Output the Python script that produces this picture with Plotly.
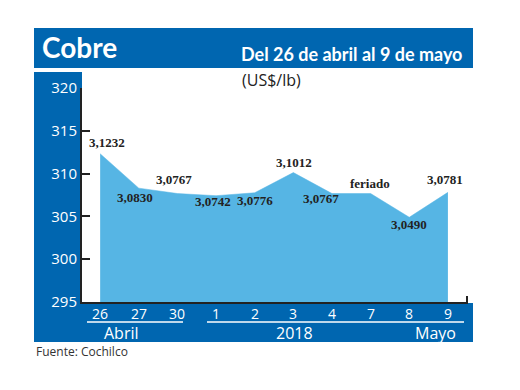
import plotly.graph_objects as go

# ---- data ----
days = ["26", "27", "30", "1", "2", "3", "4", "7", "8", "9"]
price_usd_lb = [3.1232, 3.0830, 3.0767, 3.0742, 3.0776, 3.1012, 3.0767, 3.0767, 3.0490, 3.0781]
holiday = [False, False, False, False, False, False, False, True, False, False]
y_ticks = [295, 300, 305, 310, 315, 320]
month_groups = ["Abril", "2018", "Mayo"]

# label offsets (styling)
label_dy = [11, -9, 14, -6, -8, 10, -5, 10, -7, 13]
label_dx = [7, -4, -3, -3, 0, 1, -11, -1, 0, -3]

BLUE = "rgb(0,102,176)"
AREA = "rgb(86,181,228)"

# plot area in pixels
L, R, T, B = 82, 468, 88, 302
W, H = 520, 390


def px(x):
    return (x - L) / (R - L)


def py(y):
    return (B - y) / (B - T)


cents = [v * 100 for v in price_usd_lb]
idx = list(range(len(days)))

fig = go.Figure()
fig.add_trace(go.Scatter(
    x=days, y=cents, mode="lines", fill="tozeroy",
    fillcolor=AREA, line=dict(color=AREA, width=0.5),
    hoverinfo="skip", showlegend=False,
))

shapes = [
    dict(type="rect", xref="paper", yref="paper", x0=px(34), x1=px(473), y0=py(68), y1=py(28),
         fillcolor=BLUE, line=dict(width=0), layer="below"),
    dict(type="rect", xref="paper", yref="paper", x0=px(34), x1=px(82), y0=py(342), y1=py(72),
         fillcolor=BLUE, line=dict(width=0), layer="below"),
    dict(type="rect", xref="paper", yref="paper", x0=px(34), x1=px(473), y0=py(342), y1=py(303),
         fillcolor=BLUE, line=dict(width=0), layer="below"),
    dict(type="line", xref="paper", yref="paper", x0=px(87), x1=px(183), y0=py(322), y1=py(322),
         line=dict(color="white", width=1.5)),
    dict(type="line", xref="paper", yref="paper", x0=px(207), x1=px(464), y0=py(322), y1=py(322),
         line=dict(color="white", width=1.5)),
    dict(type="line", xref="paper", yref="paper", x0=px(467), x1=px(467), y0=py(302), y1=py(296),
         line=dict(color="#222", width=2)),
]

ann = []
ann.append(dict(text="Cobre", x=px(40), y=py(47), xref="paper", yref="paper",
                xanchor="left", yanchor="middle", showarrow=False,
                font=dict(family="Lato", size=28, color="white", weight="bold")))
ann.append(dict(text="Del 26 de abril al 9 de mayo", x=px(464), y=py(54), xref="paper", yref="paper",
                xanchor="right", yanchor="middle", showarrow=False,
                font=dict(family="Lato", size=18, color="white", weight="bold")))
ann.append(dict(text="(US$/lb)", x=px(240), y=py(80), xref="paper", yref="paper",
                xanchor="left", yanchor="middle", showarrow=False,
                font=dict(family="Open Sans", size=16, color="#222")))
ann.append(dict(text="Fuente: Cochilco", x=px(34), y=py(351), xref="paper", yref="paper",
                xanchor="left", yanchor="middle", showarrow=False,
                font=dict(family="Open Sans", size=12, color="#333")))

# data labels (x given as category index)
for i, v, hol, dy, dx in zip(idx, cents, holiday, label_dy, label_dx):
    txt = "feriado" if hol else f"{v/100:.4f}".replace(".", ",")
    ann.append(dict(text=txt, x=i, y=v, xref="x", yref="y", showarrow=False,
                    xanchor="center", yanchor="middle", yshift=dy, xshift=dx,
                    font=dict(family="Liberation Serif", size=13, color="#222", weight="bold")))

# x tick labels
for i, d in zip(idx, days):
    ann.append(dict(text=d, x=i, y=py(313), xref="x", yref="paper", showarrow=False,
                    xanchor="center", yanchor="middle",
                    font=dict(family="Open Sans", size=14, color="white")))

# month group labels
for txt, xc in zip(month_groups, [121, 294, 435]):
    ann.append(dict(text=txt, x=px(xc), y=py(333), xref="paper", yref="paper", showarrow=False,
                    xanchor="center", yanchor="middle",
                    font=dict(family="Open Sans", size=16, color="white")))

fig.update_layout(
    width=W, height=H,
    margin=dict(l=L, r=W - R, t=T, b=H - B, pad=0),
    paper_bgcolor="white", plot_bgcolor="white",
    shapes=shapes, annotations=ann,
    xaxis=dict(type="category", range=[-0.47, 9.52], showgrid=False, zeroline=False,
               showline=True, linecolor="#222", linewidth=2, ticks="", showticklabels=False,
               fixedrange=True),
    yaxis=dict(range=[295, 320], tickvals=y_ticks, showgrid=False, zeroline=False,
               showline=True, linecolor="#222", linewidth=2, ticks="inside", ticklen=8,
               tickwidth=2, tickcolor="#222",
               tickfont=dict(family="Open Sans", size=15, color="white"),
               fixedrange=True),
)

fig.write_html("out.html", config={"displayModeBar": False},
               post_script="document.body.style.margin='0px';")
